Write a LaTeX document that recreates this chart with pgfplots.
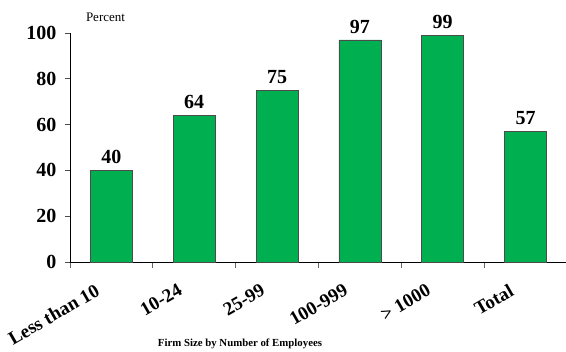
\documentclass[border=0pt]{standalone}
\usepackage{fontspec}
\setmainfont{Liberation Serif}
\usepackage{pgfplots}
\pgfplotsset{compat=1.18}
\definecolor{barg}{RGB}{0,176,80}
\begin{document}
\begin{tikzpicture}
\useasboundingbox (0,0) rectangle (566pt,352pt);
\begin{axis}[
  at={(70pt,90pt)}, anchor=south west,
  scale only axis, width=497pt, height=229pt,
  xmin=-0.5, xmax=5.5, ymin=0, ymax=100,
  axis lines*=left,
  axis line style={line width=0.8pt},
  ytick={0,20,...,100},
  xtick={0,...,5},
  xticklabels={Less than 10,10-24,25-99,100-999,> 1000,Total},
  minor xtick={-0.5,0.5,...,5.5},
  tick align=outside,
  major tick length=5pt,
  minor tick length=6pt,
  major x tick style={draw=none},
  minor x tick style={draw=black!60, line width=0.8pt},
  major y tick style={draw=black!70, line width=0.8pt},
  /pgf/number format/assume math mode=true,
  xticklabel style={font=\bfseries\fontsize{19}{21}\selectfont, rotate=30, anchor=north east, yshift=-2pt, xshift=-19.5pt},
  yticklabel style={font=\bfseries\fontsize{20}{22}\selectfont, xshift=-5pt},
  ybar, bar width=42pt,
  nodes near coords,
  nodes near coords style={font=\bfseries\fontsize{20}{22}\selectfont, anchor=south, yshift=3pt},
  clip=false,
]
\addplot[fill=barg, draw=black!70, line width=0.6pt] coordinates {(0,40) (1,64) (2,75) (3,97) (4,99) (5,57)};
\end{axis}
\node[font=\fontsize{13}{15}\selectfont] at (105.5pt,335pt) {Percent};
\node[font=\bfseries\fontsize{10.8}{12}\selectfont] at (240pt,8pt) {Firm Size by Number of Employees};
\end{tikzpicture}
\end{document}
